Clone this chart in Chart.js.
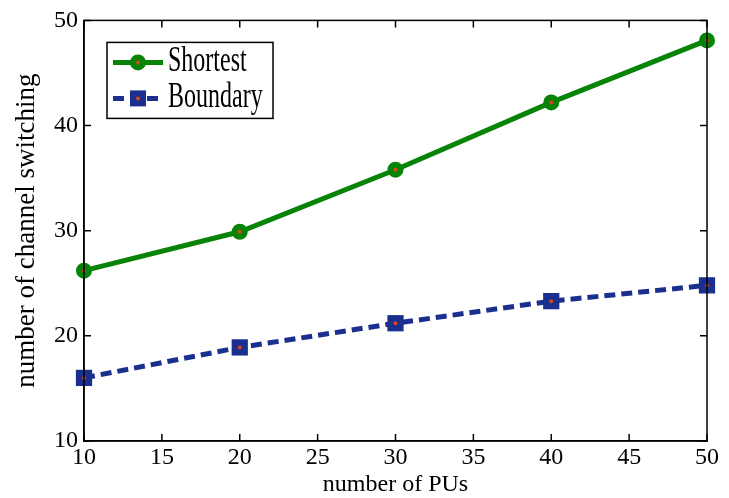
<!DOCTYPE html>
<html>
<head>
<meta charset="utf-8">
<script src="https://cdn.jsdelivr.net/npm/chart.js@4/dist/chart.umd.min.js"></script>
<style>
  html, body { margin: 0; padding: 0; background: #fff; }
</style>
</head>
<body>
<canvas id="chart" width="729" height="498"></canvas>
<script>
const pus = [10, 20, 30, 40, 50];
const shortest = [26.2, 29.9, 35.8, 42.2, 48.1];
const boundary = [16.0, 18.9, 21.2, 23.3, 24.8];
const xTicks = [10, 15, 20, 25, 30, 35, 40, 45, 50];
const yTicks = [10, 20, 30, 40, 50];
const seriesNames = ['Shortest', 'Boundary'];

const GREEN = '#078407';
const BLUE = '#1b2f8f';
const SERIF = '"Liberation Serif", "Times New Roman", serif';

// inward ticks on all four sides + closed box, like matlab
const frameTicks = {
  id: 'frameTicks',
  afterDraw(chart) {
    const { ctx, chartArea: a, scales: { x, y } } = chart;
    const len = 7;
    ctx.save();
    ctx.strokeStyle = '#000';
    ctx.lineWidth = 1.5;
    ctx.strokeRect(a.left, a.top, a.right - a.left, a.bottom - a.top);
    ctx.beginPath();
    xTicks.forEach(v => {
      const px = x.getPixelForValue(v);
      ctx.moveTo(px, a.bottom); ctx.lineTo(px, a.bottom - len);
      ctx.moveTo(px, a.top); ctx.lineTo(px, a.top + len);
    });
    yTicks.forEach(v => {
      const py = y.getPixelForValue(v);
      ctx.moveTo(a.left, py); ctx.lineTo(a.left + len, py);
      ctx.moveTo(a.right, py); ctx.lineTo(a.right - len, py);
    });
    ctx.stroke();
    ctx.restore();
  }
};

// small red dot in the middle of every marker
const markerDots = {
  id: 'markerDots',
  afterDatasetsDraw(chart) {
    const ctx = chart.ctx;
    ctx.save();
    ctx.fillStyle = '#d8461c';
    chart.data.datasets.forEach((ds, i) => {
      chart.getDatasetMeta(i).data.forEach(pt => {
        ctx.beginPath();
        ctx.arc(pt.x, pt.y, 2, 0, Math.PI * 2);
        ctx.fill();
      });
    });
    ctx.restore();
  }
};

// boxed legend with line samples
const boxLegend = {
  id: 'boxLegend',
  afterDraw(chart) {
    const { ctx, chartArea: a } = chart;
    const left = a.left + 23, top = a.top + 22, w = 166, h = 76;
    ctx.save();
    ctx.strokeStyle = '#000';
    ctx.lineWidth = 1.5;
    ctx.strokeRect(left, top, w, h);
    const rows = [top + 20, top + 56];
    chart.data.datasets.forEach((ds, i) => {
      const cy = rows[i];
      const x0 = left + 6, x1 = left + 56, xm = (x0 + x1) / 2;
      ctx.strokeStyle = ds.borderColor;
      ctx.lineWidth = ds.borderWidth;
      ctx.setLineDash(ds.borderDash || []);
      ctx.beginPath();
      ctx.moveTo(x0, cy); ctx.lineTo(x1, cy);
      ctx.stroke();
      ctx.setLineDash([]);
      ctx.fillStyle = ds.pointBackgroundColor;
      ctx.beginPath();
      if (ds.pointStyle === 'rect') {
        ctx.rect(xm - 8, cy - 8, 16, 16);
      } else {
        ctx.arc(xm, cy, 8, 0, Math.PI * 2);
      }
      ctx.fill();
      ctx.fillStyle = '#d8461c';
      ctx.beginPath();
      ctx.arc(xm, cy, 2, 0, Math.PI * 2);
      ctx.fill();
      // text is drawn tall and narrow as in the picture
      ctx.fillStyle = '#000';
      ctx.font = '24px ' + SERIF;
      ctx.textBaseline = 'alphabetic';
      ctx.save();
      ctx.scale(1, 1.45);
      ctx.fillText(ds.label, x1 + 5, (cy + 9) / 1.45);
      ctx.restore();
    });
    ctx.restore();
  }
};

const tickFont = { family: SERIF, size: 24 };

new Chart(document.getElementById('chart'), {
  type: 'line',
  data: {
    datasets: [
      {
        label: seriesNames[0],
        data: pus.map((p, i) => ({ x: p, y: shortest[i] })),
        borderColor: GREEN,
        borderWidth: 5,
        pointStyle: 'circle',
        pointRadius: 7,
        pointBorderWidth: 2,
        pointBackgroundColor: GREEN,
        pointBorderColor: GREEN,
        tension: 0
      },
      {
        label: seriesNames[1],
        data: pus.map((p, i) => ({ x: p, y: boundary[i] })),
        borderColor: BLUE,
        borderWidth: 5,
        borderDash: [11, 6],
        pointStyle: 'rect',
        pointRadius: 11.5,
        pointBorderWidth: 0,
        pointBackgroundColor: BLUE,
        pointBorderColor: BLUE,
        tension: 0
      }
    ]
  },
  options: {
    responsive: false,
    animation: false,
    clip: false,
    layout: { padding: { top: 20, right: 22, left: 0, bottom: 0 } },
    plugins: {
      legend: { display: false },
      tooltip: { enabled: false }
    },
    scales: {
      x: {
        type: 'linear',
        min: 10,
        max: 50,
        afterBuildTicks: s => { s.ticks = xTicks.map(v => ({ value: v })); },
        afterFit: s => { s.height = 57; },
        grid: { drawOnChartArea: false, drawTicks: false },
        border: { color: '#000', width: 1.5 },
        ticks: { color: '#000', font: tickFont, padding: 2, maxRotation: 0, autoSkip: false },
        title: {
          display: true,
          text: 'number of PUs',
          color: '#000',
          font: { family: SERIF, size: 24, lineHeight: 1 },
          padding: { top: 0, bottom: 1 }
        }
      },
      y: {
        type: 'linear',
        min: 10,
        max: 50,
        afterBuildTicks: s => { s.ticks = yTicks.map(v => ({ value: v })); },
        afterFit: s => { s.width = 84; },
        grid: { drawOnChartArea: false, drawTicks: false },
        border: { color: '#000', width: 1.5 },
        ticks: { color: '#000', font: tickFont, padding: 6 },
        title: {
          display: true,
          text: 'number of channel switching',
          color: '#000',
          font: { family: SERIF, size: 27, lineHeight: 1 },
          padding: { top: 13, bottom: 0 }
        }
      }
    }
  },
  plugins: [frameTicks, markerDots, boxLegend]
});
</script>
</body>
</html>
